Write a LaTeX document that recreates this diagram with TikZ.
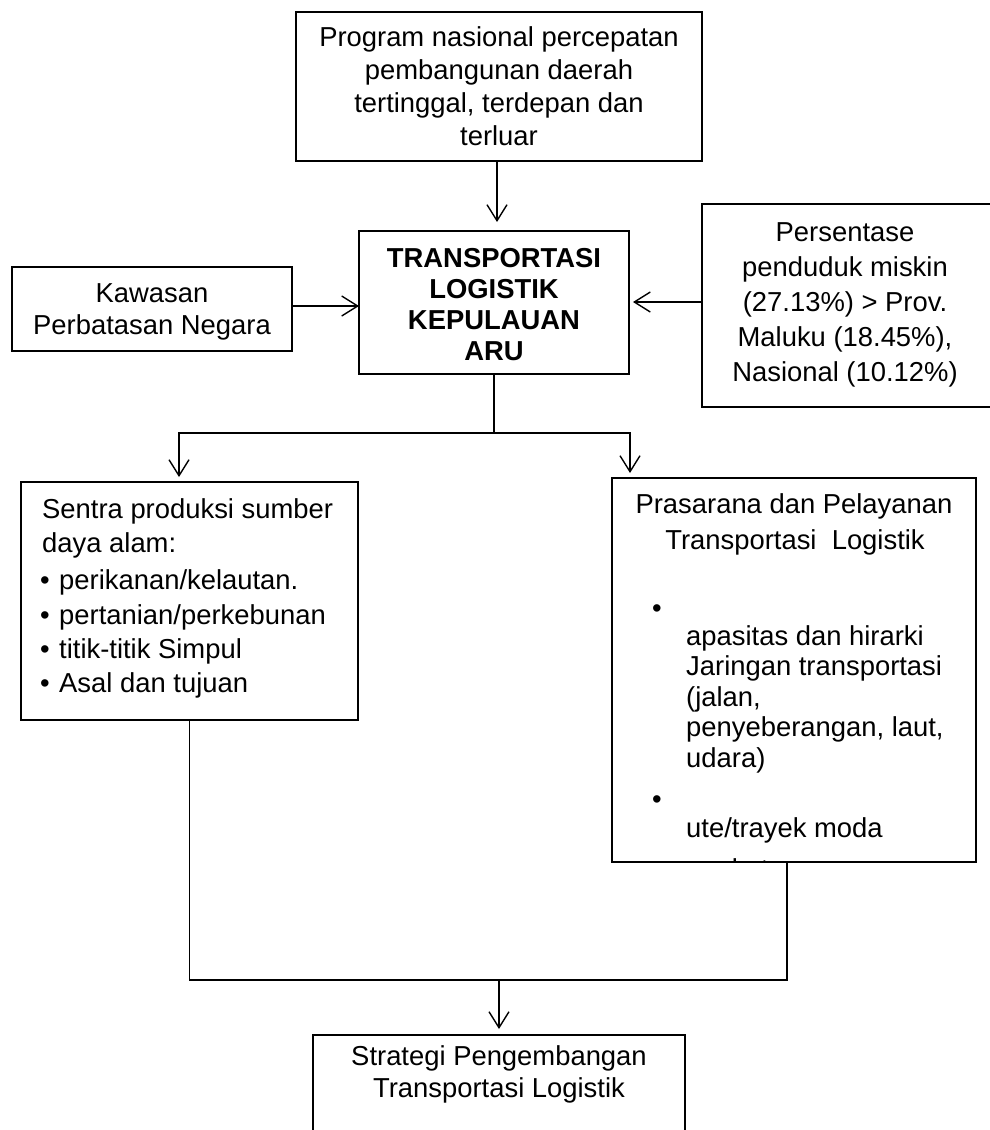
\documentclass[tikz,border=0pt]{standalone}
\usepackage{fontspec}
\setmainfont{Liberation Sans}
\usetikzlibrary{arrows.meta}

\begin{document}
\begin{tikzpicture}[x=1pt,y=-1pt,
  box/.style={draw, line width=2.6pt, inner sep=0pt, outer sep=0pt},
  body/.style={font=\fontsize{27.4}{33}\selectfont, inner sep=0pt, align=center},
  line/.style={font=\fontsize{27.4}{33}\selectfont, inner sep=0pt, anchor=base west},
  cline/.style={font=\fontsize{27.4}{33}\selectfont, inner sep=0pt, anchor=base},
  wire/.style={line width=1.4pt},
  arr/.style={wire, -{Straight Barb[length=16pt,width=20pt,line width=1.4pt]}},
]
\useasboundingbox (0,0) rectangle (990,1130);
\clip (0,0) rectangle (990,1130);

% boxes
\node[box, body, minimum width=406pt, minimum height=149pt] (prog) at (499,86.5)
  {Program nasional percepatan\\pembangunan daerah\\tertinggal, terdepan dan\\terluar};
\node[box, minimum width=270pt, minimum height=143pt] (ctr) at (494,302.5) {};
\node[body, font=\bfseries\fontsize{27.4}{31}\selectfont] (ctrTxt) at (494,305)
  {TRANSPORTASI\\LOGISTIK\\KEPULAUAN\\ARU};
\node[box, body, font=\fontsize{27.4}{32}\selectfont, text depth=0pt,
      minimum width=280pt, minimum height=84pt] (kaw) at (152,309)
  {Kawasan\\Perbatasan Negara};
\node[box, minimum width=298pt, minimum height=203pt] (pers) at (851,305.5) {};
\node[body, font=\fontsize{27.4}{35}\selectfont] (persTxt) at (845,305)
  {Persentase\\penduduk miskin\\(27.13\%) > Prov.\\Maluku (18.45\%),\\Nasional (10.12\%)};

\node[box, minimum width=337pt, minimum height=238pt] (sent) at (189.5,601) {};
\node[line] (s1) at (42,518) {Sentra produksi sumber};
\node[line] (s2) at (42,552) {daya alam:};
\node[line] (b1) at (40,589) {•};
\node[line] (s3) at (59,589) {perikanan/kelautan.};
\node[line] (b2) at (40,624) {•};
\node[line] (s4) at (59,624) {pertanian/perkebunan};
\node[line] (b3) at (40,658) {•};
\node[line] (s5) at (59,658) {titik-titik Simpul};
\node[line] (b4) at (40,692) {•};
\node[line] (s6) at (59,692) {Asal dan tujuan};

\node[box, minimum width=364pt, minimum height=384pt] (pras) at (794,670) {};
\begin{scope}
  \clip (pras.north west) rectangle (pras.south east);
  \node[cline] (p1) at (794,513) {Prasarana dan Pelayanan};
  \node[cline] (p2) at (795,549) {Transportasi\ \ Logistik};
  \node[line] (pb1) at (652,617) {•};
  \node[line] (p3) at (686,645) {apasitas dan hirarki};
  \node[line] (p4) at (686,675.5) {Jaringan transportasi};
  \node[line] (p5) at (686,706) {(jalan,};
  \node[line] (p6) at (686,736.5) {penyeberangan, laut,};
  \node[line] (p7) at (686,767) {udara)};
  \node[line] (pb2) at (652,808) {•};
  \node[line] (p8) at (686,837) {ute/trayek moda};
  \node[line] (p9) at (686,878) {angkutan};
\end{scope}
\draw[line width=2.6pt] (pras.north west) rectangle (pras.south east);

\node[box, minimum width=372pt, minimum height=115pt] (strat) at (499,1092.5) {};
\node[cline] (t1) at (499,1065) {Strategi Pengembangan};
\node[cline] (t2) at (499,1097) {Transportasi Logistik};

% connectors
\draw[arr] ([xshift=-2pt]prog.south) -- ([xshift=3pt,yshift=9pt]ctr.north);
\draw[arr] ([yshift=3pt]kaw.east) coordinate (k1) -- (k1 -| ctr.west);
\draw[arr, shorten >=4pt] ([yshift=3.5pt]pers.west) coordinate (q1) -- (q1 -| ctr.east);

\coordinate (splitL) at (179,433);
\coordinate (splitR) at (630,433);
\draw[wire] (ctr.south) -- (ctr.south |- splitL);
\draw[arr, shorten >=5pt] (ctr.south |- splitL) -- (splitL) -- (splitL |- sent.north);
\draw[arr, shorten >=5pt] (ctr.south |- splitL) -- (splitR) -- (splitR |- pras.north);

\coordinate (jn) at (499,980);
\draw[wire] (sent.south) |- (jn) -| ([xshift=-7pt]pras.south);
\draw[arr, shorten >=6pt] (jn) -- (jn |- strat.north);
\end{tikzpicture}
\end{document}
